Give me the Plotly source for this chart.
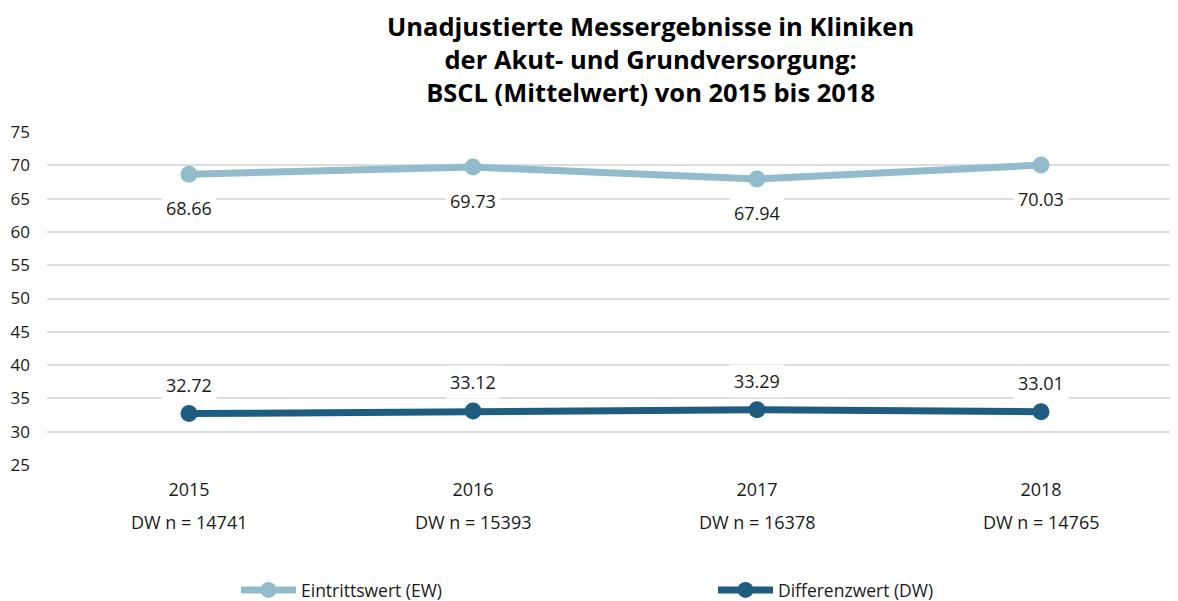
import plotly.graph_objects as go

years = ["2015", "2016", "2017", "2018"]
n_labels = ["DW n = 14741", "DW n = 15393", "DW n = 16378", "DW n = 14765"]
ew_values = [68.66, 69.73, 67.94, 70.03]
dw_values = [32.72, 33.12, 33.29, 33.01]
y_ticks = [25, 30, 35, 40, 45, 50, 55, 60, 65, 70, 75]

EW_COLOR = "#92BBCB"
DW_COLOR = "#1F5D80"
FONT = "Open Sans"
TXT = "#1a1a1a"

# page body has an 8px default margin
OFF = 8
W, H = 1178 - OFF, 601 - OFF
L, T = 47 - OFF, 132 - OFF
R = 0
B = H - (465 - OFF)
PW, PH = W - L - R, H - T - B


def px_x(ref_x):
    return (ref_x - OFF - L) / PW


def px_y(ref_y):
    return (H - B - (ref_y - OFF)) / PH


xs = list(range(len(years)))

fig = go.Figure()
fig.add_trace(go.Scatter(
    x=xs, y=ew_values, mode="lines+markers", name="Eintrittswert (EW)",
    line=dict(color=EW_COLOR, width=7), marker=dict(color=EW_COLOR, size=17),
    legend="legend",
))
fig.add_trace(go.Scatter(
    x=xs, y=dw_values, mode="lines+markers", name="Differenzwert (DW)",
    line=dict(color=DW_COLOR, width=7), marker=dict(color=DW_COLOR, size=17),
    legend="legend2",
))

annotations = []
for i, v in enumerate(ew_values):
    annotations.append(dict(x=i, y=v, xref="x", yref="y", text=f"{v:.2f}",
                            showarrow=False, yshift=-34, bgcolor="white",
                            borderpad=4, font=dict(size=18, color=TXT, family=FONT)))
for i, v in enumerate(dw_values):
    annotations.append(dict(x=i, y=v, xref="x", yref="y", text=f"{v:.2f}",
                            showarrow=False, yshift=29, bgcolor="white",
                            borderpad=4, font=dict(size=18, color=TXT, family=FONT)))
for i, t in enumerate(n_labels):
    annotations.append(dict(x=i, y=0, xref="x", yref="paper", text=t,
                            showarrow=False, yshift=-57, yanchor="middle",
                            font=dict(size=18, color=TXT, family=FONT)))

title_text = ("<b>Unadjustierte Messergebnisse in Kliniken<br>"
              "der Akut- und Grundversorgung:<br>"
              "BSCL (Mittelwert) von 2015 bis 2018</b>")
annotations.append(dict(x=px_x(650), y=px_y(OFF), xref="paper", yref="paper",
                        text=title_text, showarrow=False, borderpad=0,
                        xanchor="center", yanchor="top",
                        font=dict(size=25.5, color="#000", family=FONT)))

legend_common = dict(orientation="h", yanchor="middle", y=px_y(590),
                     xanchor="left", itemwidth=55, bgcolor="rgba(0,0,0,0)",
                     font=dict(size=17.5, color=TXT, family=FONT))

fig.update_layout(
    width=W, height=H,
    paper_bgcolor="white", plot_bgcolor="white",
    margin=dict(l=L, r=R, t=T, b=B, autoexpand=False),
    font=dict(family=FONT, size=16, color=TXT),
    xaxis=dict(
        range=[-0.5, -0.5 + PW / 284], tickmode="array", tickvals=xs, ticktext=years,
        showgrid=False, zeroline=False, showline=False, ticks="", automargin=False,
        ticklabelstandoff=12, tickfont=dict(size=18, color=TXT, family=FONT),
    ),
    yaxis=dict(
        range=[25, 75], tickmode="array", tickvals=y_ticks,
        showgrid=True, gridcolor="#DCDCDC", gridwidth=2, zeroline=False,
        showline=False, ticks="", automargin=False,
        tickfont=dict(size=17, color=TXT, family=FONT),
        ticklabelstandoff=16,
    ),
    legend=dict(x=px_x(236), **legend_common),
    legend2=dict(x=px_x(713), **legend_common),
    annotations=annotations,
    showlegend=True,
)

fig.write_html("out.html")
